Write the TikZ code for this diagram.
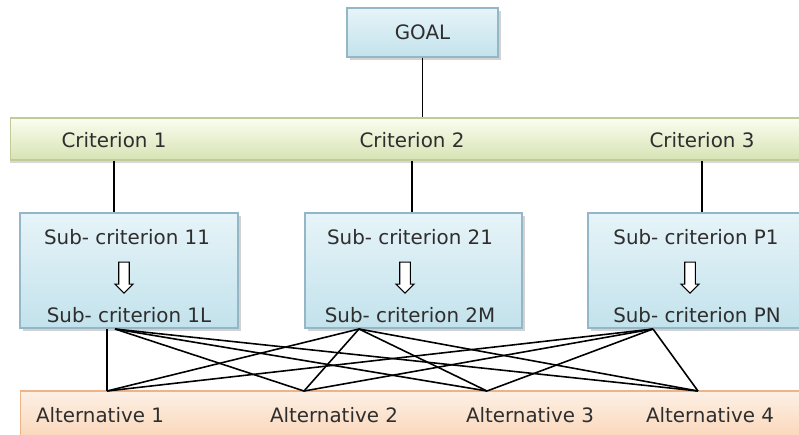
\documentclass[tikz,border=0pt]{standalone}
\usepackage{fontspec}
\setmainfont{DejaVu Sans}
\usetikzlibrary{shapes.arrows,shadows}

\definecolor{blueedge}{HTML}{94B7C8}
\definecolor{bluetop}{HTML}{E6F4F8}
\definecolor{bluebot}{HTML}{C3E2EC}
\definecolor{greenedge}{HTML}{BFCB98}
\definecolor{greentop}{HTML}{FBFDF1}
\definecolor{greenbot}{HTML}{D6E3B3}
\definecolor{peachedge}{HTML}{EDB48A}
\definecolor{peachtop}{HTML}{FDF0E5}
\definecolor{peachbot}{HTML}{F9D0AE}

\tikzset{
	bluebox/.style={draw=blueedge, line width=0.6pt, top color=bluetop, bottom color=bluebot,
		drop shadow={shadow xshift=1.5pt, shadow yshift=-1.5pt, fill=black!35}},
	critbar/.style={draw=greenedge, line width=0.6pt, top color=greentop, bottom color=greenbot,
		drop shadow={shadow xshift=0pt, shadow yshift=-1.5pt, fill=black!30}},
	altbar/.style={draw=peachedge, line width=0.6pt, top color=peachtop, bottom color=peachbot},
	downarrow/.style={single arrow, draw, fill=white, line width=0.6pt, shape border rotate=270,
		minimum height=0.62cm, minimum width=0.34cm, inner sep=0.095cm, single arrow head extend=0.075cm},
	link/.style={line width=0.9pt}
}

\begin{document}
\begin{tikzpicture}[x=0.02cm, y=-0.02cm, font=\fontsize{11.3}{13}\selectfont, text=black!82]
	\useasboundingbox (0,0) rectangle (799,434);
	\clip (0,0) rectangle (799,434);

	\node[critbar, minimum width=16.2cm, minimum height=0.84cm] (crit) at (415,139) {};
	\node[altbar, minimum width=16cm, minimum height=1.2cm] (alt) at (420,421) {};
	\node[bluebox, minimum width=3.02cm, minimum height=0.98cm] (goal) at (422.5,32.5) {GOAL};

	\node (c1) at (114,140) {Criterion 1};
	\node (c2) at (412,140) {Criterion 2};
	\node (c3) at (702,140) {Criterion 3};

	\node[bluebox, minimum width=4.36cm, minimum height=2.3cm] (s1) at (129,270.5) {};
	\node[bluebox, minimum width=4.34cm, minimum height=2.3cm] (s2) at (413.5,270.5) {};
	\node[bluebox, minimum width=4.36cm, minimum height=2.3cm] (s3) at (697,270.5) {};

	\node (s1top) at (127,237) {Sub- criterion 11};
	\node (s1bot) at (129,315) {Sub- criterion 1L};
	\node (s2top) at (410,237) {Sub- criterion 21};
	\node (s2bot) at (410,315) {Sub- criterion 2M};
	\node (s3top) at (696,237) {Sub- criterion P1};
	\node (s3bot) at (697,315) {Sub- criterion PN};

	\node[downarrow] (ar1) at (124,275) {};
	\node[downarrow] (ar2) at (405,275) {};
	\node[downarrow] (ar3) at (690,275) {};

	\node (a1t) at (100,415) {Alternative 1};
	\node (a2t) at (334,415) {Alternative 2};
	\node (a3t) at (530,415) {Alternative 3};
	\node (a4t) at (710,415) {Alternative 4};

	\draw[link] (goal.south) -- (goal.south |- crit.north);
	\draw[link] (c1 |- crit.south) -- (c1 |- s1.north);
	\draw[link] (c2 |- crit.south) -- (c2 |- s2.north);
	\draw[link] (c3 |- crit.south) -- (c3 |- s3.north);

	\coordinate (o1) at (107,329);
	\coordinate (o1b) at (115,329);
	\coordinate (o2) at (359,329);
	\coordinate (o3) at (653,329);
	\coordinate (e1) at (107,391);
	\coordinate (e2) at (304,391);
	\coordinate (e3) at (487,391);
	\coordinate (e4) at (698,391);

	\draw[link] (o1) -- (e1);
	\foreach \e in {e2,e3,e4}
		\draw[link] (o1b) -- (\e);
	\foreach \e in {e1,e2,e3,e4}
		\draw[link] (o2) -- (\e);
	\foreach \e in {e1,e2,e3,e4}
		\draw[link] (o3) -- (\e);
\end{tikzpicture}
\end{document}
